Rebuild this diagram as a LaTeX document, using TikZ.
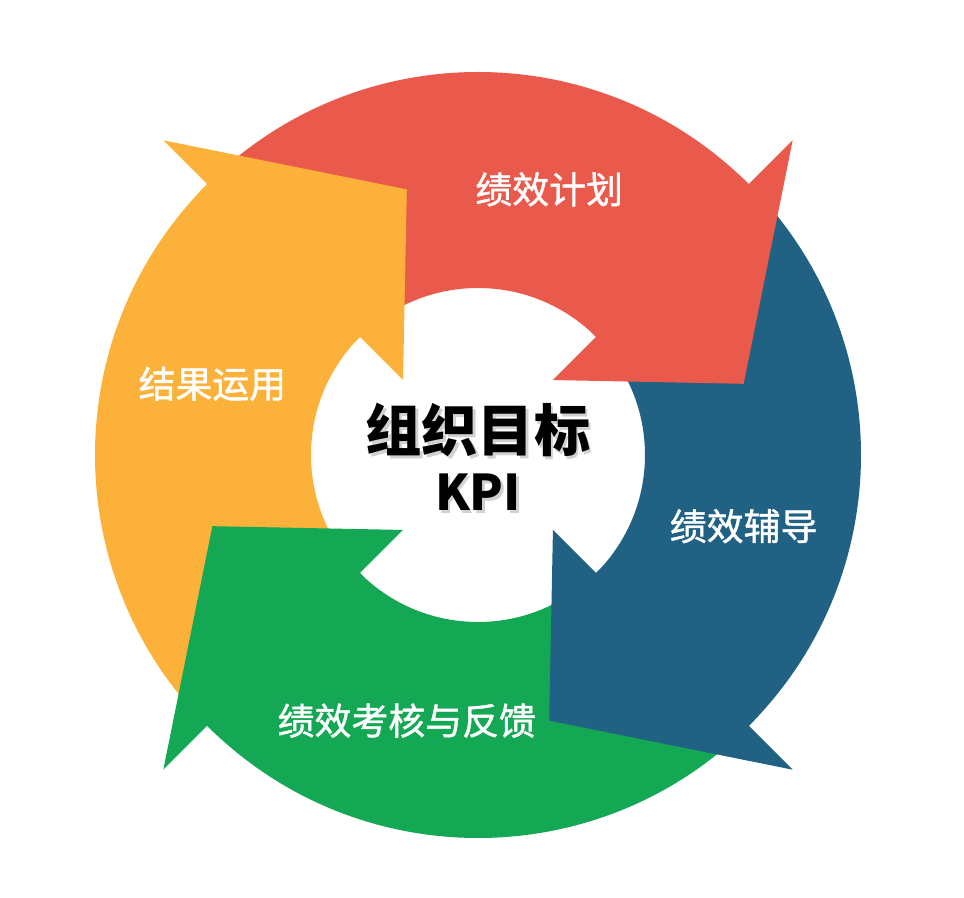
\documentclass[tikz,border=0pt]{standalone}
\usepackage{fontspec}
\newfontfamily\cjk{Noto Sans CJK SC}
\newfontfamily\cjkmed{Noto Sans CJK SC}[FakeBold=1.2]
\definecolor{planred}{HTML}{EA5A4C}
\definecolor{coachblue}{HTML}{216183}
\definecolor{reviewgreen}{HTML}{15A854}
\definecolor{applyyellow}{HTML}{FCB23A}
\newcommand\rIn{3.34}
\newcommand\rOut{7.66}
\newcommand\rMid{5.5}
\newcommand\rBarbIn{2.12}
\newcommand\rBarbOut{8.9}

\begin{document}
\begin{tikzpicture}[
  font=\cjk,
  phase/.style={text=white, inner sep=0pt, font=\cjkmed\fontsize{21}{25}\selectfont},
  goal/.style={inner sep=0pt, font=\cjk\bfseries\fontsize{32}{38}\selectfont},
  kpi/.style={inner sep=0pt, font=\cjk\bfseries\fontsize{28}{32}\selectfont},
  shade/.style={text=black!18}
]
\useasboundingbox (-9.56,-8.86) rectangle (9.72,9.10);

\foreach \b/\c in {45/planred, -45/coachblue, -135/reviewgreen, 135/applyyellow}
  \fill[\c] ({\b+90}:\rOut) arc[start angle=\b+90, end angle=\b, radius=\rOut]
    -- (\b:\rIn) arc[start angle=\b, end angle=\b+90, radius=\rIn] -- cycle;

\foreach \b/\c in {45/planred, -45/coachblue, -135/reviewgreen, 135/applyyellow}
  \fill[\c] (\b:\rBarbOut) -- ({\b-30}:\rMid) -- (\b:\rBarbIn) -- (\b:\rIn)
    arc[start angle=\b, end angle=\b+2, radius=\rIn] -- ({\b+2}:\rOut)
    arc[start angle=\b+2, end angle=\b, radius=\rOut] -- cycle;

\node[phase] (plan) at (75:\rMid) {绩效计划};
\node[phase] (coach) at (-15:\rMid) {绩效辅导};
\node[phase] (review) at (255:\rMid) {绩效考核与反馈};
\node[phase] (apply) at (165:\rMid) {结果运用};

\node[goal, shade] (goalshade) at (0.05,0.44) {组织目标};
\node[goal] (goal) at (0,0.5) {组织目标};
\node[kpi, shade] (kpishade) at (0.05,-0.80) {KPI};
\node[kpi] (kpi) at (0,-0.74) {KPI};

\end{tikzpicture}
\end{document}
